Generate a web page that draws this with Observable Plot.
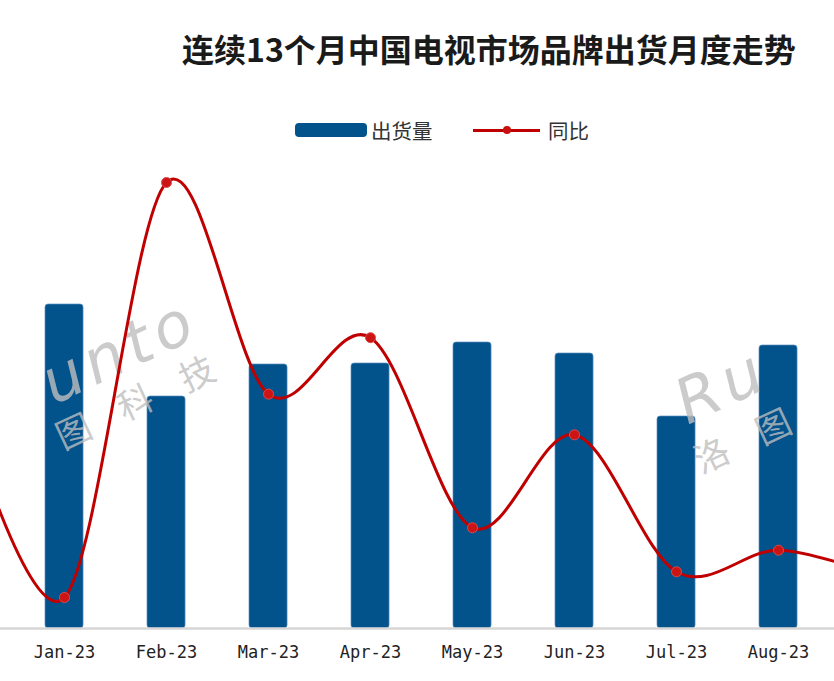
<!DOCTYPE html>
<html>
<head>
<meta charset="utf-8">
<script src="https://cdn.jsdelivr.net/npm/d3@7"></script>
<script src="https://cdn.jsdelivr.net/npm/@observablehq/plot@0.6"></script>
<style>
  html, body { margin: 0; padding: 0; background: #fff; }
  #wrap { position: relative; width: 834px; height: 681px; overflow: hidden; background: #fff; font-family: "Noto Sans CJK SC", "Noto Sans", sans-serif; }
  #wrap svg { position: absolute; left: 0; top: 0; }
  .title { position: absolute; left: 182px; top: 30px; font-size: 32px; line-height: 36px; font-weight: 700; color: #1a1a1a; white-space: nowrap; }
  .legend { position: absolute; top: 117px; left: 0; height: 26px; width: 834px; font-size: 20.5px; color: #333; }
  .legend .sw-bar { position: absolute; left: 295px; top: 6px; width: 72px; height: 14px; background: #02528c; border-radius: 4px; }
  .legend .lab { position: absolute; top: 0; line-height: 26px; white-space: nowrap; }
  .legend .sw-line { position: absolute; left: 473px; top: 11.5px; width: 67px; height: 3px; background: #c00000; }
  .legend .sw-dot { position: absolute; left: 503px; top: 9px; width: 8px; height: 8px; border-radius: 50%; background: #c81010; }
  .wm { position: absolute; color: rgba(190,190,190,0.8); white-space: nowrap; transform-origin: 0 100%; transform: rotate(-25deg); pointer-events: none; }
  .wm.en { font-family: "DejaVu Sans", sans-serif; font-style: oblique; font-size: 62px; letter-spacing: 6px; line-height: 62px; }
  .wm.cn { font-family: "Noto Sans CJK SC", sans-serif; font-size: 35px; letter-spacing: 33px; line-height: 35px; }
</style>
</head>
<body>
<div id="wrap">
  <div class="title">连续13个月中国电视市场品牌出货月度走势</div>
  <div class="legend">
    <div class="sw-bar"></div><div class="lab" style="left:371px">出货量</div>
    <div class="sw-line"></div><div class="sw-dot"></div><div class="lab" style="left:548px">同比</div>
  </div>
</div>
<script>
// ---- data ----
const months = ["Dec-22","Jan-23","Feb-23","Mar-23","Apr-23","May-23","Jun-23","Jul-23","Aug-23","Sep-23"];
const tickLabels = ["Jan-23","Feb-23","Mar-23","Apr-23","May-23","Jun-23","Jul-23","Aug-23"];
const shipMonths = ["Jan-23","Feb-23","Mar-23","Apr-23","May-23","Jun-23","Jul-23","Aug-23"];
const shipValues = [324, 232, 264, 265, 286, 275, 212, 283];      // 出货量
const yoyMonths = months;
const yoyValues = [3.5, -20, 30, 4.5, 11.3, -11.6, -0.4, -16.9, -14.3, -17.5]; // 同比 %

const ship = shipMonths.map((m, i) => ({month: m, value: shipValues[i]}));
const yoy = yoyMonths.map((m, i) => ({month: m, value: yoyValues[i]}));

const xScale = {type: "band", domain: months, range: [-57, 899.05], paddingInner: 0.627, paddingOuter: 0, align: 0.5, round: false};

const wrap = document.getElementById("wrap");

const bars = Plot.plot({
  width: 834, height: 681,
  marginTop: 0, marginLeft: 0, marginRight: 0, marginBottom: 53,
  style: {background: "transparent", overflow: "hidden"},
  x: {...xScale, axis: null},
  y: {domain: [0, 500], range: [628, 128], axis: null},
  marks: [
    Plot.barY(ship, {x: "month", y: "value", fill: "#02528c", stroke: "#5b8fbf", strokeWidth: 1, strokeOpacity: 0.7, rx: 3}),
    Plot.ruleY([0], {stroke: "#d6d6d6", strokeWidth: 2.5}),
    Plot.axisX(tickLabels, {tickSize: 0, tickPadding: 17, fontSize: 17, fontFamily: "DejaVu Sans Mono", fill: "#222", label: null})
  ]
});
wrap.appendChild(bars);

// watermark (only the fully visible parts), between bars and line
function wm(cls, text, left, top) {
  const d = document.createElement("div");
  d.className = "wm " + cls;
  d.textContent = text;
  d.style.left = left + "px";
  d.style.top = top + "px";
  wrap.appendChild(d);
}
wm("en", "unto", 58, 352);
wm("cn", "图科技", 64, 417);
wm("en", "Ru", 692, 372);
wm("cn", "洛图", 702, 441);

const line = Plot.plot({
  width: 834, height: 681,
  margin: 0,
  style: {background: "transparent", overflow: "hidden"},
  x: {...xScale, axis: null},
  y: {domain: [-20, 30], range: [597, 182], axis: null},
  marks: [
    Plot.line(yoy, {x: "month", y: "value", curve: "cardinal", stroke: "#c00000", strokeWidth: 3}),
    Plot.dot(yoy, {x: "month", y: "value", r: 5, fill: "#cc1414", stroke: "#e04848", strokeWidth: 1})
  ]
});
wrap.appendChild(line);
</script>
</body>
</html>
